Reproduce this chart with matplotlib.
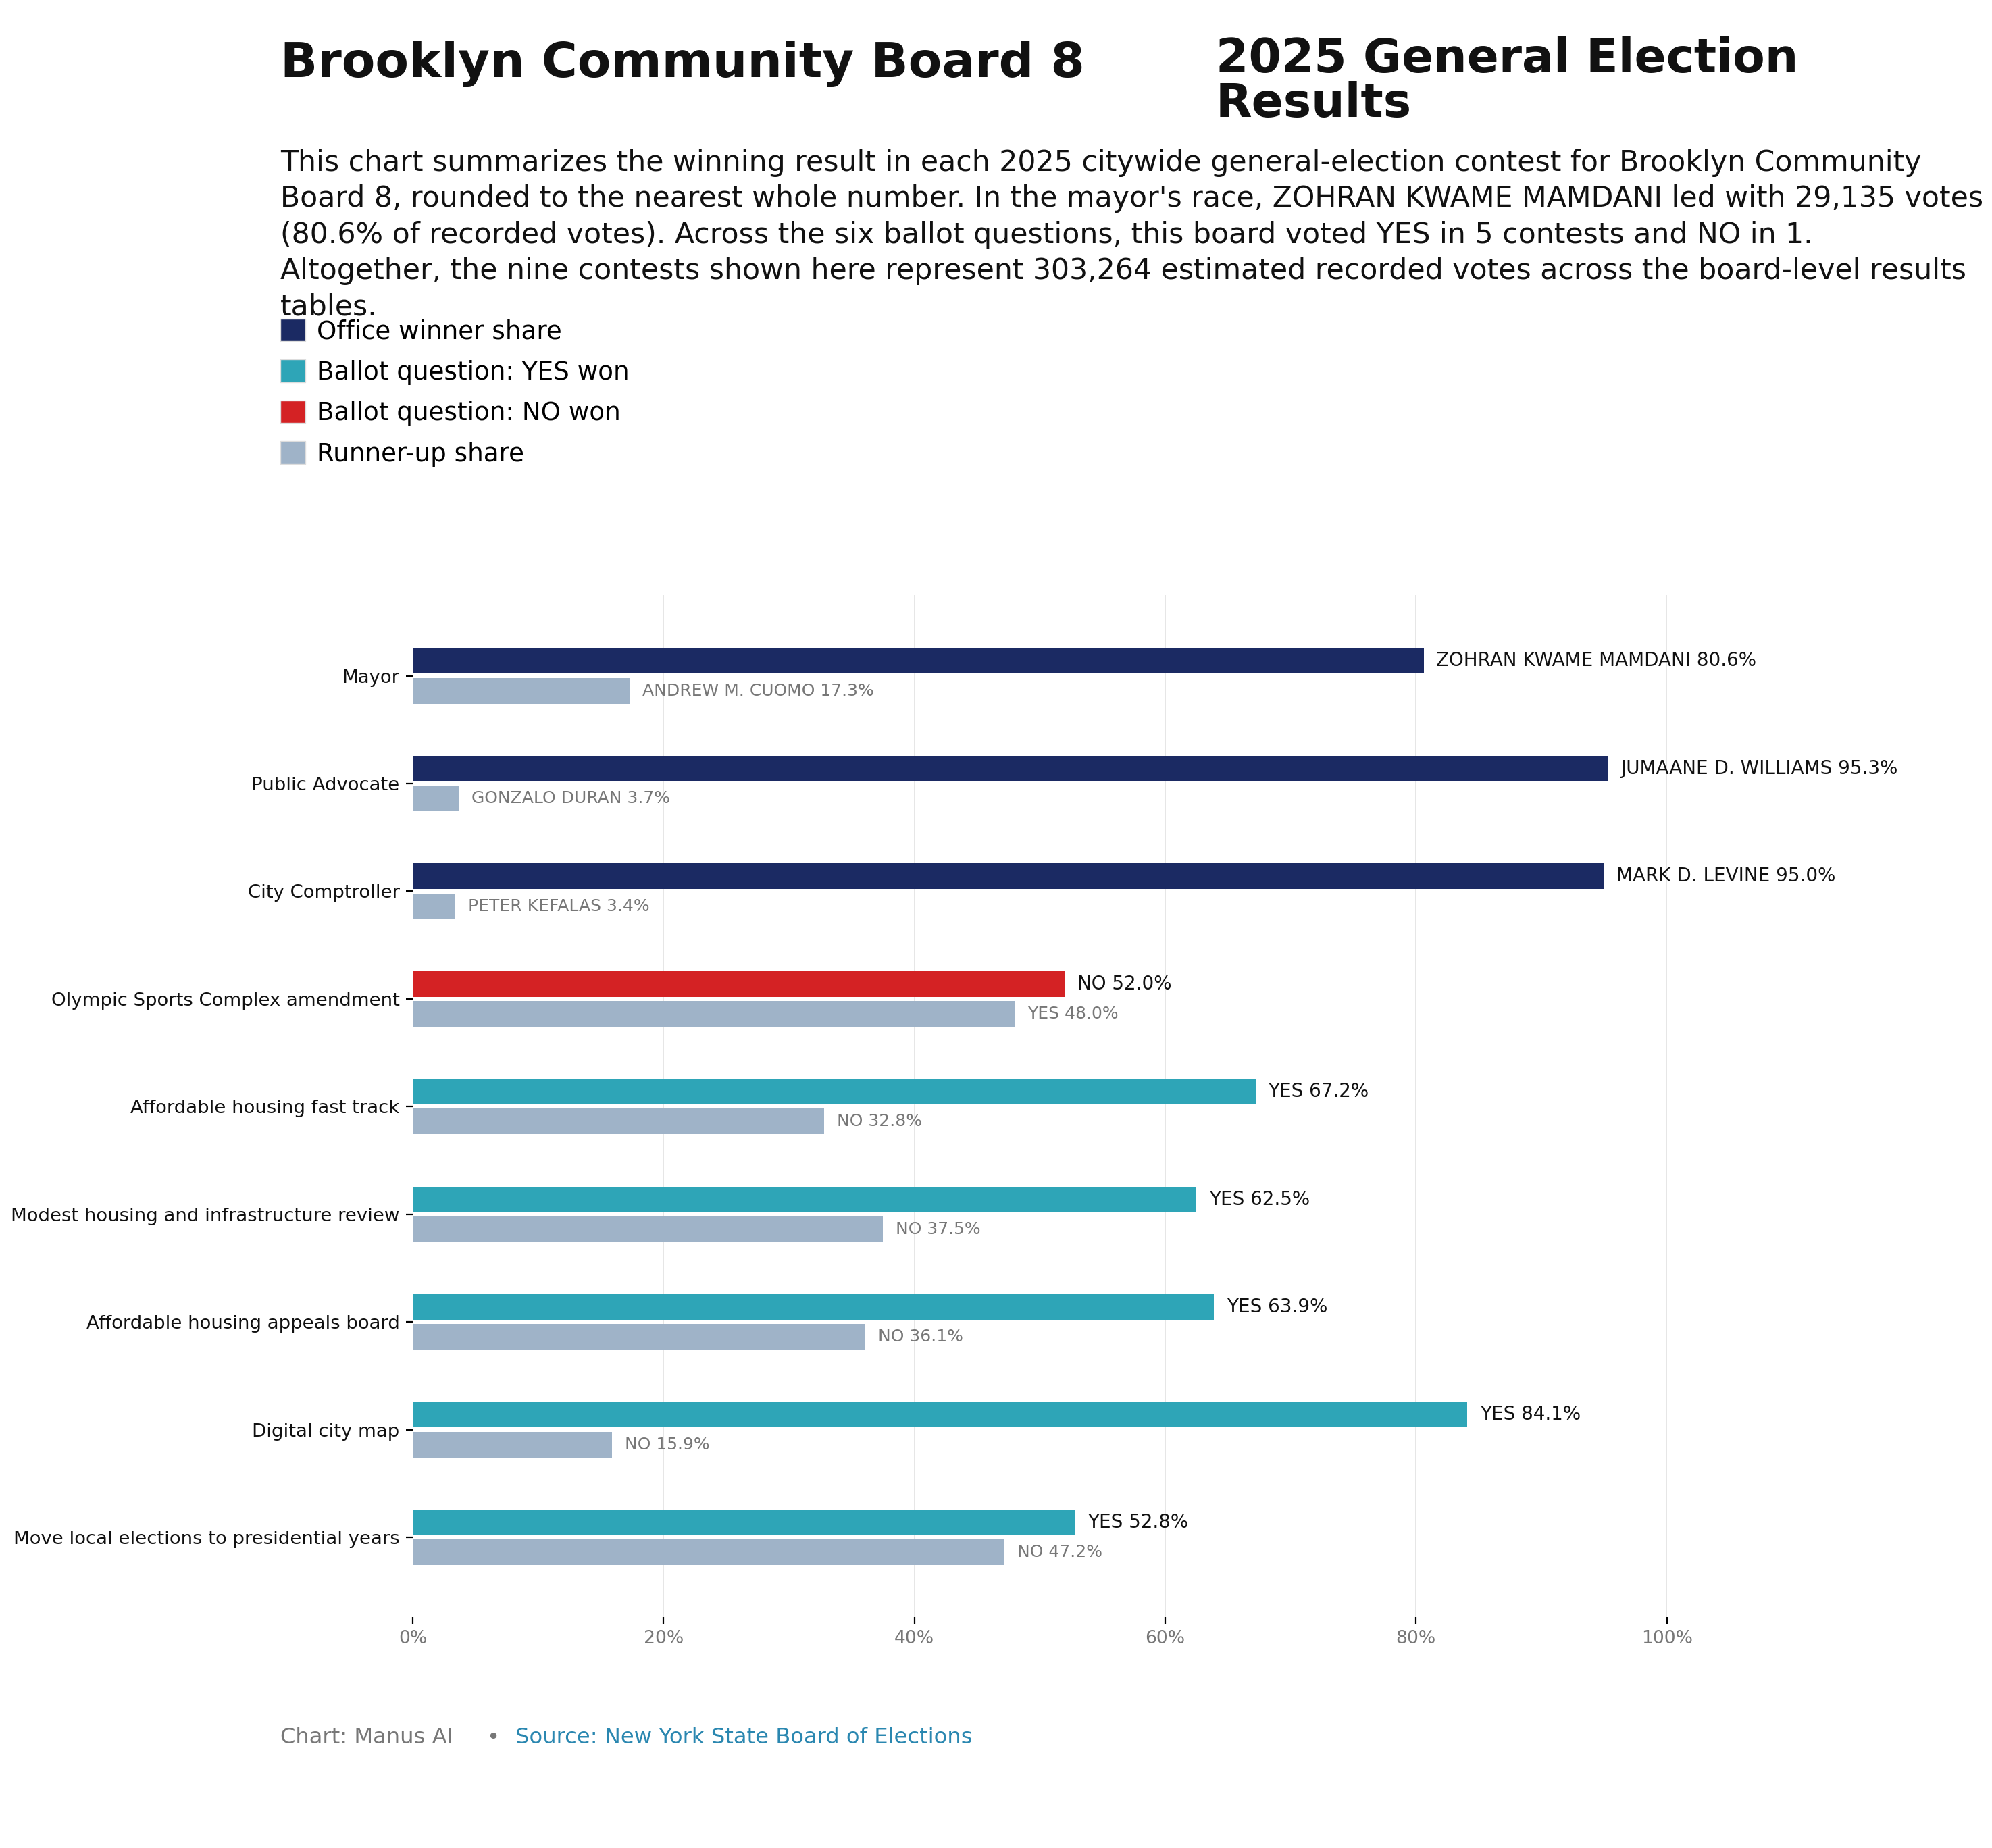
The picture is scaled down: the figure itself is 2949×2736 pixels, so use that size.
import numpy as np
import matplotlib
matplotlib.use("Agg")
import matplotlib.pyplot as plt
from matplotlib.patches import Patch
from matplotlib.ticker import FuncFormatter

# Ergebnisse je Wahlgang (Gewinner / Zweitplatzierter, Anteil in %)
contests = [
    "Mayor",
    "Public Advocate",
    "City Comptroller",
    "Olympic Sports Complex amendment",
    "Affordable housing fast track",
    "Modest housing and infrastructure review",
    "Affordable housing appeals board",
    "Digital city map",
    "Move local elections to presidential years",
]
winner_names = ["ZOHRAN KWAME MAMDANI", "JUMAANE D. WILLIAMS", "MARK D. LEVINE",
                "NO", "YES", "YES", "YES", "YES", "YES"]
winner_share = [80.6, 95.3, 95.0, 52.0, 67.2, 62.5, 63.9, 84.1, 52.8]
runner_names = ["ANDREW M. CUOMO", "GONZALO DURAN", "PETER KEFALAS",
                "YES", "NO", "NO", "NO", "NO", "NO"]
runner_share = [17.3, 3.7, 3.4, 48.0, 32.8, 37.5, 36.1, 15.9, 47.2]
winner_kind = ["office", "office", "office", "no", "yes", "yes", "yes", "yes", "yes"]

x_ticks = [0, 20, 40, 60, 80, 100]

subtitle_lines = [
    "This chart summarizes the winning result in each 2025 citywide general-election contest for Brooklyn Community",
    "Board 8, rounded to the nearest whole number. In the mayor's race, ZOHRAN KWAME MAMDANI led with 29,135 votes",
    "(80.6% of recorded votes). Across the six ballot questions, this board voted YES in 5 contests and NO in 1.",
    "Altogether, the nine contests shown here represent 303,264 estimated recorded votes across the board-level results",
    "tables.",
]

colors = {"office": "#1b2a63", "yes": "#2ea5b7", "no": "#d42224"}
runner_color = "#9fb3c8"
gray = "#777777"

fig = plt.figure(figsize=(14.745, 13.68), dpi=200)
W, H = 2949, 2736

ax = fig.add_axes([611 / W, 1 - 2394 / H, (2467.7 - 611) / W, (2394 - 881) / H])

y = np.arange(len(contests))
h = 0.238
off = 0.139

win_cols = [colors[k] for k in winner_kind]
ax.barh(y - off, winner_share, height=h, color=win_cols, zorder=3)
ax.barh(y + off, runner_share, height=h, color=runner_color, zorder=3)

for i in range(len(contests)):
    ax.text(winner_share[i] + 1, y[i] - off, f"{winner_names[i]} {winner_share[i]:.1f}%",
            va="center", ha="left", fontsize=10, color="#111111")
    ax.text(runner_share[i] + 1, y[i] + off, f"{runner_names[i]} {runner_share[i]:.1f}%",
            va="center", ha="left", fontsize=9, color=gray)

ax.set_yticks(y)
ax.set_yticklabels(contests, fontsize=9.9, color="#111111")
ax.set_ylim(8.74, -0.75)
ax.set_xlim(0, 100)
ax.set_xticks(x_ticks)
ax.xaxis.set_major_formatter(FuncFormatter(lambda v, p: f"{v:.0f}%"))
ax.tick_params(axis="x", labelsize=9.6, labelcolor=gray)
ax.xaxis.grid(True, color="#e6e6e6", linewidth=0.7, zorder=0)
ax.set_axisbelow(True)
for s in ax.spines.values():
    s.set_visible(False)

# Titel
fig.text(415 / W, 1 - 114 / H, "Brooklyn Community Board 8", fontsize=26, fontweight="bold",
         color="#111111", va="baseline", ha="left")
fig.text(1800 / W, 1 - 173 / H, "2025 General Election\nResults", fontsize=25, fontweight="bold",
         color="#111111", va="baseline", ha="left", linespacing=0.99)

# Untertitel
for k, line in enumerate(subtitle_lines):
    fig.text(415 / W, 1 - (252.7 + k * 53.5) / H, line, fontsize=15.35, color="#111111",
             va="baseline", ha="left")

# Legende
handles = [
    Patch(facecolor=colors["office"], edgecolor="#dddddd", linewidth=0.5, label="Office winner share"),
    Patch(facecolor=colors["yes"], edgecolor="#dddddd", linewidth=0.5, label="Ballot question: YES won"),
    Patch(facecolor=colors["no"], edgecolor="#dddddd", linewidth=0.5, label="Ballot question: NO won"),
    Patch(facecolor=runner_color, edgecolor="#dddddd", linewidth=0.5, label="Runner-up share"),
]
fig.legend(handles=handles, loc="upper left", bbox_to_anchor=(415 / W, 1 - 472 / H),
           frameon=False, borderpad=0, borderaxespad=0, handlelength=1.0, handleheight=1.0,
           handletextpad=0.45, labelspacing=0.62, fontsize=13.4)

# Fußzeile
fig.text(415 / W, 1 - 2581 / H, "Chart: Manus AI", fontsize=11.6, color=gray, va="baseline")
fig.text(730 / W, 1 - 2581 / H, "•", fontsize=11.6, color=gray, va="baseline", ha="center")
fig.text(763 / W, 1 - 2581 / H, "Source: New York State Board of Elections", fontsize=11.6,
         color="#2a87b0", va="baseline")

fig.savefig("out.png", dpi=200)
